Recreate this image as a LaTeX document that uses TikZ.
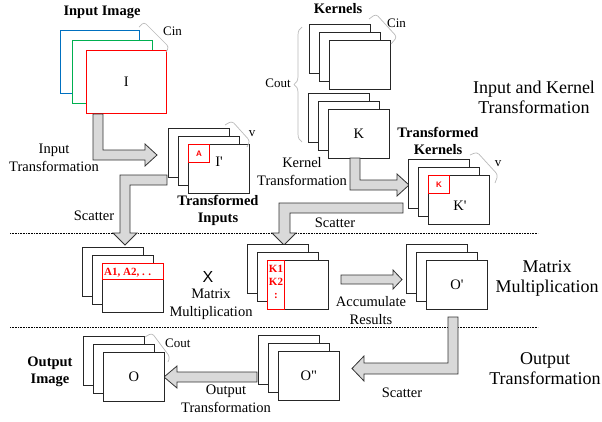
\documentclass[tikz,border=0pt]{standalone}
\usepackage{fontspec}
\setmainfont{Liberation Serif}
\setsansfont{Liberation Sans}
\usetikzlibrary{calc,decorations.pathreplacing}

\definecolor{imgblue}{RGB}{0,112,192}
\definecolor{imggreen}{RGB}{0,176,80}
\definecolor{imgred}{RGB}{255,0,0}

% three stacked planes, the front one is a named node
\newcommand{\imgstack}[4]{%
  \draw[plate] (#2,#3) rectangle ++(61,49);
  \draw[plate] (#2+10,#3+8) rectangle ++(61,49);
  \node[plate, lbl, minimum width=61pt, minimum height=49pt, anchor=north west] (#1) at (#2+20,#3+16) {#4};
}

\begin{document}
\begin{tikzpicture}[x=1pt,y=-1pt,
    plate/.style={draw=black!85, line width=0.8pt, fill=white},
    blk/.style={draw=black!80, fill=gray!30, line width=0.8pt, line join=miter},
    chan/.style={draw=gray!55, line width=0.7pt, rounded corners=3pt},
    lbl/.style={font=\fontsize{14.5}{18}\selectfont, inner sep=0pt, align=center},
    ttl/.style={font=\bfseries\fontsize{14.5}{17}\selectfont, inner sep=0pt, align=center},
    big/.style={font=\fontsize{18}{20}\selectfont, inner sep=0pt, align=center},
    small/.style={font=\fontsize{13}{15}\selectfont, inner sep=0pt},
    redtxt/.style={text=imgred, font=\bfseries\fontsize{11}{12.5}\selectfont, inner sep=0pt}]

    \useasboundingbox (0,0) rectangle (602,421);

    % section separators
    \draw[line width=0.6pt, dash pattern=on 0.8pt off 0.8pt] (10,233) -- (538,233);
    \draw[line width=0.6pt, dash pattern=on 0.8pt off 0.8pt] (10,327) -- (538,327);

    % input image
    \node[ttl, anchor=base] (intitle) at (102,15) {Input Image};
    \draw[plate, draw=imgblue] (60,30) rectangle (139,93);
    \draw[plate, draw=imggreen] (72,40) rectangle (152,103);
    \node[plate, lbl, draw=imgred, minimum width=80pt, minimum height=63pt, anchor=north west] (in) at (86,50) {I};
    \draw[chan] (139,27) -- (144,22) -- (169,47) -- (166,52);
    \node[small, anchor=base west] (incin) at (163,35) {Cin};

    % kernels
    \node[ttl, anchor=base] (kertitle) at (338,13) {Kernels};
    \imgstack{ker1}{309}{24}{}
    \imgstack{ker2}{308}{93}{K}
    \draw[chan] (369,19) -- (376,14) -- (397,37) -- (391,44);
    \node[small, anchor=base west] (kercin) at (387,27) {Cin};
    \draw[draw=gray!55, line width=0.7pt, decorate, decoration={brace, amplitude=8pt}] (302,142) -- (302,27);
    \node[small, anchor=base] (kercout) at (278,87) {Cout};

    \node[big] (iktext) at (534,97) {Input and Kernel\\Transformation};

    % input transformation
    \draw[blk] (93,114) -- (103,114) -- (103,150) -- (145,150) -- (145,144) -- (157,155)
        -- (145,166) -- (145,160) -- (93,160) -- cycle;
    \node[lbl] (intr) at (54,158) {Input\\Transformation};

    % transformed inputs
    \imgstack{tin}{168}{128}{}
    \node[draw=imgred, line width=0.8pt, minimum width=21pt, minimum height=18pt, inner sep=0pt,
        anchor=north west, text=imgred, font=\sffamily\bfseries\fontsize{8}{9}\selectfont] (abox) at (tin.north west) {A};
    \node[lbl] (iprime) at (219,162) {I\textquotesingle};
    \draw[chan] (225,125) -- (232,121) -- (250,141) -- (247,147);
    \node[small, anchor=base] (tinv) at (252,136) {v};
    \node[ttl] (tintitle) at (218,210) {Transformed\\Inputs};

    % kernel transformation
    \draw[blk] (350,158) -- (360,158) -- (360,180) -- (397,180) -- (397,174) -- (409,185)
        -- (397,196) -- (397,190) -- (350,190) -- cycle;
    \node[lbl] (kertr) at (302,172) {Kernel\\Transformation};

    % transformed kernels
    \node[ttl] (tkertitle) at (438,141) {Transformed\\Kernels};
    \imgstack{tker}{408}{159}{}
    \node[draw=imgred, line width=0.8pt, minimum width=21pt, minimum height=18pt, inner sep=0pt,
        anchor=north west, text=imgred, font=\sffamily\bfseries\fontsize{8}{9}\selectfont] (kbox) at (tker.north west) {K};
    \node[lbl] (kprime) at (460,206) {K\textquotesingle};
    \draw[chan] (470,155) -- (477,152) -- (498,175) -- (495,183);
    \node[small, anchor=base] (tkerv) at (498,166) {v};

    % scatter to the multiplication
    \draw[blk] (167,175) -- (167,185) -- (130,185) -- (130,233) -- (137,233) -- (125,245)
        -- (113,233) -- (120,233) -- (120,175) -- cycle;
    \node[lbl, anchor=base] (scat1) at (94,220) {Scatter};
    \draw[blk] (403,203) -- (403,213) -- (290,213) -- (290,233) -- (296,233) -- (284,245)
        -- (272,233) -- (279,233) -- (279,203) -- cycle;
    \node[lbl, anchor=base] (scat2) at (335,227) {Scatter};

    % matrix multiplication
    \imgstack{amat}{82}{247}{}
    \draw[draw=imgred, line width=0.8pt] (amat.north west) rectangle ($(amat.north east)+(0,16)$);
    \node[redtxt, anchor=base west] (alist) at (104,275) {A1, A2, . .};
    \node[inner sep=0pt, font=\sffamily\fontsize{16}{16}\selectfont] (times) at (208,277) {X};
    \node[lbl] (mmtext) at (211,304) {Matrix\\Multiplication};

    \imgstack{kmat}{247}{244}{}
    \node[draw=imgred, line width=0.8pt, minimum width=17pt, minimum height=49pt, inner sep=0pt,
        anchor=north west] (kstrip) at (kmat.north west) {};
    \node[redtxt, anchor=base] (kone) at (276,272) {K1};
    \node[redtxt, anchor=base] (ktwo) at (276,285) {K2};
    \node[redtxt, anchor=base] (kdots) at (276,298) {:};

    \draw[blk] (341,275) -- (393,275) -- (393,270) -- (402,279.5) -- (393,289) -- (393,284)
        -- (341,284) -- cycle;
    \node[lbl] (accu) at (371,311) {Accumulate\\Results};

    \imgstack{opr}{406}{244}{O\textquotesingle}
    \node[big] (mmbig) at (547,278) {Matrix\\Multiplication};

    % output transformation
    \draw[blk] (448,317) -- (458,317) -- (458,374) -- (364,374) -- (364,381) -- (352,368.5)
        -- (364,356) -- (364,363) -- (448,363) -- cycle;
    \node[lbl, anchor=base] (scat3) at (402,397) {Scatter};
    \node[big] (otbig) at (545,369) {Output\\Transformation};

    \imgstack{oprr}{258}{335}{O\textquotedbl}
    \draw[blk] (257,372) -- (257,382) -- (177,382) -- (177,388) -- (164,377) -- (177,366)
        -- (177,372) -- cycle;
    \node[lbl] (outtr) at (226,399) {Output\\Transformation};

    \imgstack{out}{83}{336}{O}
    \draw[chan] (145,337) -- (152,333) -- (170,357) -- (168,362);
    \node[small, anchor=base west] (outcout) at (165,347) {Cout};
    \node[ttl] (outtitle) at (50,372) {Output\\Image};

\end{tikzpicture}
\end{document}
